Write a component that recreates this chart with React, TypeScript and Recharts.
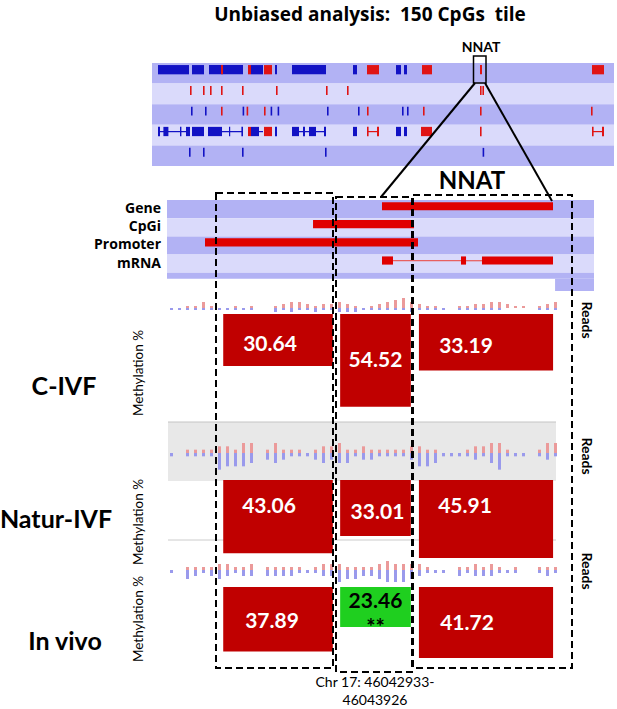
import { Bar, BarChart, ComposedChart, Line, ReferenceArea, XAxis, YAxis } from 'recharts';

const FONT = 'Lato, "Open Sans", sans-serif';
const FONT2 = '"Open Sans", Lato, sans-serif';

// ---------- overview browser (positions in kb, chr17) ----------
const overviewDomain = [45879.5, 46110.5];

const track1Blue = [
  [45882.5, 45898.0], [45899.5, 45905.5], [45908.0, 45925.0], [45929.0, 45935.0], [45941.0, 45942.0],
  [45949.5, 45966.5], [45980.0, 45982.0], [46001.5, 46004.0], [46005.5, 46007.0],
];
const track1Red = [
  [45914.0, 45915.0], [45927.5, 45929.0], [45935.5, 45939.5], [45987.0, 45993.0], [46014.5, 46019.5],
  [46043.5, 46044.5], [46099.5, 46105.5],
];
const track2Red = [45898.5, 45905.0, 45908.5, 45914.0, 45924.5, 45941.5, 45966.5, 45977.0, 46043.5, 46044.7];
const track3Blue = [45899.0, 45906.0, 45924.8, 45938.8, 45942.3, 45967.0, 45982.5, 46004.5, 46007.0];
const track3Red = [45914.0, 45926.8, 45935.5, 45987.0, 46015.0, 46043.5, 46099.0];
const track4BlueExons = [
  [45882.5, 45883.5], [45885.2, 45887.7], [45893.5, 45894.2], [45896.5, 45898.5], [45899.5, 45905.5],
  [45907.5, 45914.5], [45918.0, 45918.6], [45924.2, 45925.0], [45929.0, 45933.0], [45941.0, 45942.0],
  [45949.5, 45953.0], [45955.0, 45956.0], [45958.0, 45961.5], [45965.5, 45966.5], [45980.0, 45982.0],
  [46001.5, 46004.0], [46005.5, 46007.0],
];
const track4BlueIntrons = [[45882.5, 45898.5], [45907.5, 45925.0], [45929.0, 45935.0], [45949.5, 45966.5]];
const track4RedExons = [
  [45927.5, 45929.0], [45935.5, 45939.5], [45987.0, 45987.8], [45992.0, 45993.0], [46014.0, 46019.5],
  [46043.5, 46044.3], [46099.5, 46100.3], [46104.5, 46105.5],
];
const track4RedIntrons = [[45987.0, 45993.0], [46099.5, 46105.5]];
const track5Blue = [45898.0, 45905.0, 45924.5, 45966.0, 46044.8];

// ---------- zoomed NNAT locus (bp, chr17) ----------
const zoomDomain = [46040500, 46046500];
const geneSpan = [46043521, 46045924];
const cpgIsland = [46042552, 46043971];
const promoter = [46041034, 46044027];
const mrnaExons = [[46043521, 46043676], [46044631, 46044702], [46044926, 46045924]];

// ---------- reads (binned, up = red, down = blue) ----------
const civfUp = [0, 0, 1, 1, 3, 1, 0, 0, 1, 0, 1, 0, 0, 1, 2, 3, 3, 2, 1, 2, 2, 3, 2, 1, 0, 1, 2, 3, 4, 5, 3, 2, 1, 1, 0, 0, 1, 1, 2, 2, 3, 3, 2, 1, 1, 0, 1, 2, 3];
const civfDown = [1, 1, 1, 1, 1, 1, 1, 1, 1, 1, 1, 0, 0, 2, 1, 2, 1, 1, 2, 1, 1, 2, 2, 2, 1, 1, 1, 1, 1, 1, 2, 1, 1, 1, 1, 0, 1, 1, 1, 1, 1, 1, 0, 0, 0, 0, 1, 1, 1];
const naturUp = [0, 0, 1, 1, 1, 1, 2, 2, 1, 3, 3, 0, 1, 3, 1, 1, 1, 0, 1, 2, 2, 3, 1, 1, 2, 1, 1, 1, 1, 1, 2, 2, 1, 1, 0, 0, 0, 1, 2, 2, 3, 3, 1, 0, 0, 0, 1, 3, 3];
const naturDown = [1, 0, 1, 1, 1, 1, 5, 4, 4, 4, 3, 0, 2, 3, 2, 1, 1, 1, 2, 3, 2, 3, 3, 1, 2, 2, 1, 1, 1, 1, 2, 4, 4, 3, 1, 1, 1, 1, 2, 1, 3, 5, 1, 1, 1, 0, 1, 2, 1];
const vivoUp = [0, 0, 1, 1, 1, 1, 2, 2, 1, 1, 2, 0, 1, 1, 1, 1, 1, 0, 1, 2, 2, 2, 1, 1, 1, 1, 2, 3, 2, 2, 2, 2, 1, 0, 0, 0, 1, 1, 2, 1, 2, 1, 0, 1, 0, 0, 1, 1, 1];
const vivoDown = [1, 0, 3, 2, 1, 2, 3, 2, 1, 2, 2, 0, 2, 2, 2, 2, 1, 1, 1, 2, 2, 4, 3, 3, 2, 2, 3, 4, 4, 4, 3, 2, 1, 1, 1, 0, 2, 1, 2, 2, 2, 1, 1, 1, 0, 0, 1, 2, 1];

// ---------- methylation per 150-CpG tile ----------
const tileStart = [46041290, 46042933, 46044040];
const tileEnd = [46042830, 46043926, 46045925];
const civfMeth = [30.64, 54.52, 33.19];
const naturMeth = [43.06, 33.01, 45.91];
const vivoMeth = [37.89, 23.46, 41.72];
const vivoSignif = ['', '**', ''];

const DARK = '#b2b2f4';
const LIGHT = '#dadafb';
const BLUE = '#1212c4';
const RED = '#e01414';
const BAR_RED = '#c00000';
const GREEN = '#1fcf1f';

const noMargin = { top: 0, right: 0, bottom: 0, left: 0 };

// two anchor rows so the chart has data and lays out its axes
const anchors = (domain: number[]) => [{ x: domain[0], y: 0 }, { x: domain[1], y: 0 }];

function spans(list: number[][], row: number, y1: number, y2: number, fill: string, key: string) {
  return list.map(([s, e], i) => (
    <ReferenceArea key={`${key}${i}`} x1={s} x2={e} y1={row + y1} y2={row + y2} fill={fill} fillOpacity={1} stroke="none" ifOverflow="visible" />
  ));
}

function ticks(list: number[], row: number, fill: string, key: string) {
  return spans(list.map((p) => [p, p + 0.8]), row, 0.12, 0.55, fill, key);
}

function Overview() {
  return (
    <div style={{ position: 'absolute', left: 152, top: 63 }}>
      <ComposedChart width={462} height={103} margin={noMargin} data={anchors(overviewDomain)}>
        <XAxis type="number" dataKey="x" domain={overviewDomain} hide allowDataOverflow />
        <YAxis type="number" domain={[0, 5]} reversed hide allowDataOverflow />
        {[0, 1, 2, 3, 4].map((r) => (
          <ReferenceArea key={`bg${r}`} x1={overviewDomain[0]} x2={overviewDomain[1]} y1={r} y2={r + 1} fill={r % 2 ? LIGHT : DARK} fillOpacity={1} stroke="none" />
        ))}
        {spans(track1Blue, 0, 0.1, 0.55, BLUE, 'a')}
        {spans(track1Red, 0, 0.1, 0.55, RED, 'b')}
        {ticks(track2Red, 1, RED, 'c')}
        {ticks(track3Blue, 2, BLUE, 'd')}
        {ticks(track3Red, 2, RED, 'e')}
        {spans(track4BlueIntrons, 3, 0.3, 0.36, BLUE, 'f')}
        {spans(track4BlueExons, 3, 0.1, 0.55, BLUE, 'g')}
        {spans(track4RedIntrons, 3, 0.3, 0.36, RED, 'h')}
        {spans(track4RedExons, 3, 0.1, 0.55, RED, 'i')}
        {ticks(track5Blue, 4, BLUE, 'j')}
        <Line dataKey="y" stroke="none" dot={false} isAnimationActive={false} />
      </ComposedChart>
    </div>
  );
}

function Locus() {
  const introns = mrnaExons.slice(1).map((ex, i) => [mrnaExons[i][1], ex[0]]);
  return (
    <div style={{ position: 'absolute', left: 167, top: 200 }}>
      <ComposedChart width={427} height={91} margin={noMargin} data={anchors(zoomDomain)}>
        <XAxis type="number" dataKey="x" domain={zoomDomain} hide allowDataOverflow />
        <YAxis type="number" domain={[0, 5]} reversed hide allowDataOverflow />
        {[0, 1, 2, 3].map((r) => (
          <ReferenceArea key={`bg${r}`} x1={zoomDomain[0]} x2={zoomDomain[1]} y1={r} y2={r + 1} fill={r % 2 ? LIGHT : DARK} fillOpacity={1} stroke="none" />
        ))}
        <ReferenceArea x1={zoomDomain[0]} x2={zoomDomain[1]} y1={4} y2={4.33} fill={DARK} fillOpacity={1} stroke="none" />
        <ReferenceArea x1={46045953} x2={zoomDomain[1]} y1={4.33} y2={5} fill={DARK} fillOpacity={1} stroke="none" />
        {spans([geneSpan], 0, 0.12, 0.56, '#e00000', 'g')}
        {spans([cpgIsland], 1, 0.1, 0.55, '#e00000', 'c')}
        {spans([promoter], 2, 0.1, 0.55, '#e00000', 'p')}
        {spans(introns, 3, 0.3, 0.37, '#e86060', 'n')}
        {spans(mrnaExons, 3, 0.1, 0.55, '#e00000', 'm')}
        <Line dataKey="y" stroke="none" dot={false} isAnimationActive={false} />
      </ComposedChart>
    </div>
  );
}

function ReadsTrack({ up, down, top, height }: { up: number[]; down: number[]; top: number; height: number }) {
  const rows = up.map((u, i) => ({ bin: i, up: u, down: -down[i] }));
  return (
    <div style={{ position: 'absolute', left: 167, top }}>
      <BarChart width={392} height={height} data={rows} margin={noMargin} stackOffset="sign" barCategoryGap={0}>
        <XAxis dataKey="bin" hide />
        <YAxis type="number" domain={[-6, 6]} hide allowDataOverflow />
        <Bar dataKey="up" stackId="r" fill="#eb9a9a" barSize={3} isAnimationActive={false} />
        <Bar dataKey="down" stackId="r" fill="#9a9aec" barSize={3} isAnimationActive={false} />
      </BarChart>
    </div>
  );
}

function ValueLabel(props: any) {
  const vb = props.viewBox;
  if (!vb) return null;
  const cx = vb.x + vb.width / 2 + (props.shiftX ?? 0);
  const cy = vb.y + vb.height / 2 + (props.shiftY ?? 0);
  if (props.star) {
    return (
      <g fontFamily={FONT} fontWeight={700} fill="#000" textAnchor="middle">
        <text x={cx} y={vb.y + 21} fontSize={21}>{props.text}</text>
        <text x={cx} y={vb.y + 48} fontSize={22}>{props.star}</text>
      </g>
    );
  }
  return (
    <text x={cx} y={cy} fontFamily={FONT} fontWeight={700} fontSize={21} fill="#fff" textAnchor="middle" dominantBaseline="central">
      {props.text}
    </text>
  );
}

function MethylationRow({ values, top, shifts, signif }: { values: number[]; top: number; shifts: number[][]; signif?: string[] }) {
  return (
    <div style={{ position: 'absolute', left: 167, top }}>
      <ComposedChart width={427} height={102} margin={noMargin} data={anchors(zoomDomain)}>
        <XAxis type="number" dataKey="x" domain={zoomDomain} hide allowDataOverflow />
        <YAxis type="number" domain={[0, 60]} reversed hide allowDataOverflow />
        {values.map((v, i) => (
          <ReferenceArea
            key={i}
            x1={tileStart[i]}
            x2={tileEnd[i]}
            y1={0}
            y2={v}
            fill={signif && signif[i] ? GREEN : BAR_RED}
            fillOpacity={1}
            stroke="none"
            label={<ValueLabel text={v.toFixed(2)} star={signif ? signif[i] : ''} shiftX={shifts[i][0]} shiftY={shifts[i][1]} />}
          />
        ))}
        <Line dataKey="y" stroke="none" dot={false} isAnimationActive={false} />
      </ComposedChart>
    </div>
  );
}

function Decorations() {
  const dash = { fill: 'none', stroke: '#000', strokeWidth: 2, strokeDasharray: '7 4' };
  return (
    <svg width={617} height={709} style={{ position: 'absolute', left: 0, top: 0, pointerEvents: 'none' }}>
      <g fontFamily={FONT} fill="#000">
        <text x={370} y={21} fontFamily={FONT2} fontSize={19} fontWeight={700} textAnchor="middle" style={{ whiteSpace: 'pre' }}>
          Unbiased analysis:  150 CpGs  tile
        </text>
        <text x={481} y={52} fontSize={14} fontWeight={700} textAnchor="middle">NNAT</text>
        <text x={472} y={189} fontSize={24} fontWeight={700} textAnchor="middle">NNAT</text>
        <g fontFamily={FONT2} fontSize={14} fontWeight={700} textAnchor="end">
          <text x={161} y={213}>Gene</text>
          <text x={161} y={231}>CpGi</text>
          <text x={161} y={249}>Promoter</text>
          <text x={161} y={268}>mRNA</text>
        </g>
        <g fontSize={25} fontWeight={700} textAnchor="middle">
          <text x={64} y={395}>C-IVF</text>
          <text x={56} y={528}>Natur-IVF</text>
          <text x={65} y={650}>In vivo</text>
        </g>
        <g fontSize={13.5} textAnchor="middle">
          <text transform="translate(143,373) rotate(-90)">Methylation %</text>
          <text transform="translate(143,522) rotate(-90)">Methylation %</text>
          <text transform="translate(143,619) rotate(-90)">Methylation %</text>
        </g>
        <g fontSize={14} fontWeight={700} textAnchor="middle">
          <text transform="translate(582,320) rotate(90)">Reads</text>
          <text transform="translate(582,456) rotate(90)">Reads</text>
          <text transform="translate(582,571) rotate(90)">Reads</text>
        </g>
        <g fontSize={14} textAnchor="middle">
          <text x={375} y={687}>Chr 17: 46042933-</text>
          <text x={375} y={705}>46043926</text>
        </g>
      </g>
      <rect x={473.5} y={56} width={12.5} height={27} fill="none" stroke="#000" strokeWidth={1.5} />
      <line x1={475} y1={83} x2={381} y2={197} stroke="#000" strokeWidth={2} />
      <line x1={485} y1={83} x2={552} y2={201} stroke="#000" strokeWidth={2} />
      <rect x={216} y={193} width={117} height={475} {...dash} />
      <rect x={336} y={197} width={76} height={475} {...dash} />
      <rect x={413} y={195} width={159} height={473} {...dash} />
    </svg>
  );
}

export default function App() {
  return (
    <div style={{ position: 'absolute', left: 0, top: 0, width: 617, height: 709, background: '#fff', overflow: 'hidden' }}>
      <svg width={617} height={709} style={{ position: 'absolute', left: 0, top: 0 }}>
        <rect x={168} y={422} width={388} height={59} fill="#e8e8e8" />
        <line x1={168} y1={422} x2={556} y2={422} stroke="#c4c4c4" strokeWidth={1} />
        <line x1={168} y1={540} x2={556} y2={540} stroke="#cccccc" strokeWidth={1} />
      </svg>
      <Overview />
      <Locus />
      <ReadsTrack up={civfUp} down={civfDown} top={296} height={24} />
      <ReadsTrack up={naturUp} down={naturDown} top={433} height={40} />
      <ReadsTrack up={vivoUp} down={vivoDown} top={552} height={36} />
      <MethylationRow values={civfMeth} top={314} shifts={[[-8, 2], [0, -2], [-20, 2]]} />
      <MethylationRow values={naturMeth} top={480} shifts={[[-9, -12], [2, 2], [-21, -15]]} />
      <MethylationRow values={vivoMeth} top={587} shifts={[[-6, 0], [0, 0], [-19, -1]]} signif={vivoSignif} />
      <Decorations />
    </div>
  );
}
